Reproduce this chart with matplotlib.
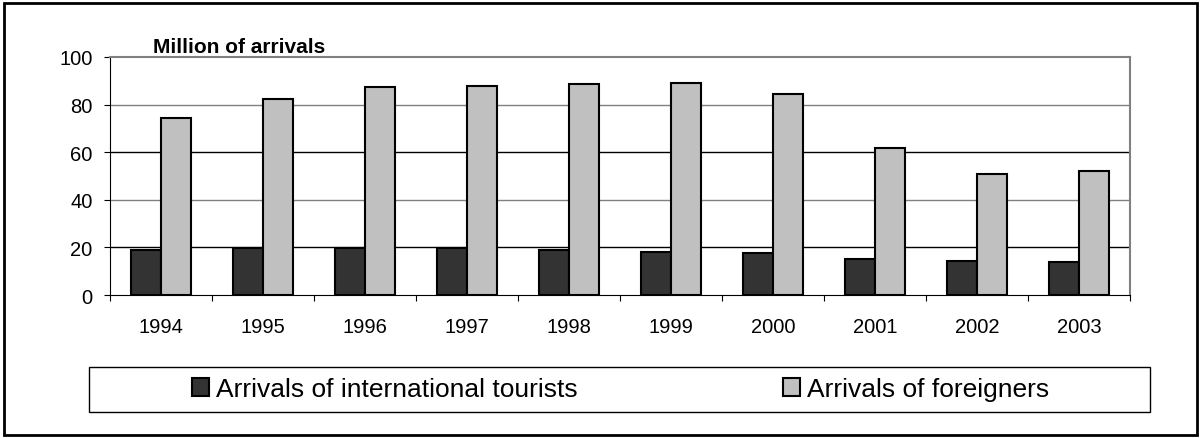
import numpy as np
from matplotlib import pyplot as plt
from matplotlib.patches import Rectangle

years = ["1994", "1995", "1996", "1997", "1998", "1999", "2000", "2001", "2002", "2003"]
tourists = [19.0, 19.6, 19.9, 19.7, 18.9, 18.2, 17.6, 15.1, 14.1, 14.0]
foreigners = [74.2, 82.3, 87.4, 87.7, 88.7, 89.2, 84.5, 61.6, 50.7, 52.1]
series_names = ["Arrivals of international tourists", "Arrivals of foreigners"]
y_ticks = [0, 20, 40, 60, 80, 100]

plt.rcParams["font.family"] = ["Liberation Sans", "DejaVu Sans"]

fig = plt.figure(figsize=(12.03, 4.39), dpi=100)
ax = fig.add_axes([0.0914, 0.3257, 0.8479, 0.5422])

x = np.arange(len(years))
w = 0.29
b1 = ax.bar(x - w / 2, tourists, w, color="#333333", edgecolor="black", linewidth=1.5,
            label=series_names[0], zorder=3)
b2 = ax.bar(x + w / 2, foreigners, w, color="#c0c0c0", edgecolor="black", linewidth=1.5,
            label=series_names[1], zorder=3)

# horizontal gridlines
for yv, c in zip(y_ticks[1:-1], ["black", "#808080", "black", "#808080"]):
    ax.axhline(yv, color=c, linewidth=1.0, zorder=1)

ax.set_xlim(-0.5, len(years) - 0.5)
ax.set_ylim(0, 100)
ax.set_yticks(y_ticks)
ax.tick_params(axis="y", labelsize=14.5, length=4.5, width=0.8, pad=8)

ax.set_xticks(x)
ax.set_xticklabels(years)
ax.set_xticks(np.arange(-0.5, len(years)), minor=True)
ax.tick_params(axis="x", which="major", length=0, labelsize=14.5, pad=15.5)
ax.tick_params(axis="x", which="minor", length=4.5, width=0.8, direction="out")

for side in ["left", "bottom"]:
    ax.spines[side].set_color("black")
    ax.spines[side].set_linewidth(0.8)
for side in ["top", "right"]:
    ax.spines[side].set_color("#808080")
    ax.spines[side].set_linewidth(1.5)

fig.text(0.127, 0.879, "Million of arrivals", fontsize=15, fontweight="bold", va="baseline")

# legend
fig.legend(handles=[b1, b2], loc="center", bbox_to_anchor=(0.5158, 0.1116), ncol=2,
           frameon=False, fontsize=19, handlelength=0.65, handleheight=0.65,
           handletextpad=0.25, columnspacing=7.8)
fig.patches.append(Rectangle((89 / 1203, 1 - 413 / 439), 1061 / 1203, 45 / 439,
                             transform=fig.transFigure, fill=False, edgecolor="black",
                             linewidth=1.0))

# outer border
fig.patches.append(Rectangle((4 / 1203, 3 / 439), 1193 / 1203, 432 / 439,
                             transform=fig.transFigure, fill=False, edgecolor="black",
                             linewidth=2.0))

fig.savefig("out.png", dpi=100)
